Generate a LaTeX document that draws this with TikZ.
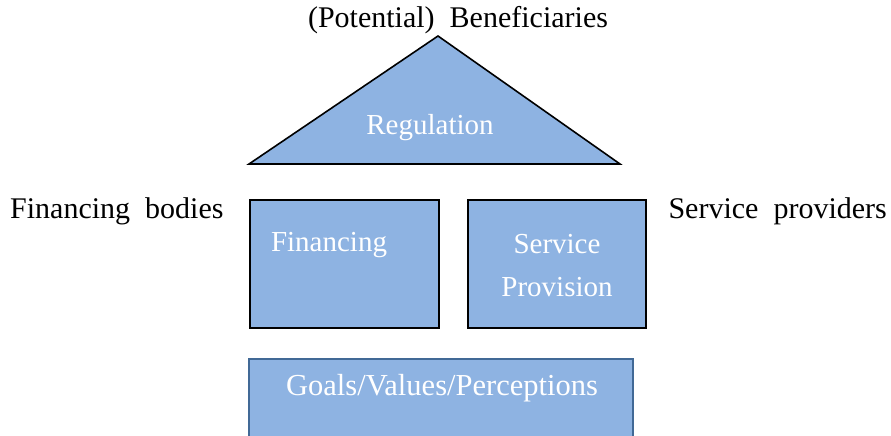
\documentclass[tikz,border=0pt]{standalone}
\usepackage{fontspec}
\setmainfont{Liberation Serif}
\usepackage{xcolor}
\usepackage{tikz}
\usetikzlibrary{positioning}
\definecolor{boxblue}{RGB}{142,179,226}
\definecolor{edgeblue}{RGB}{65,105,150}
\tikzset{
	pillar/.style={draw=black,fill=boxblue,line width=1.6pt,anchor=north west,inner sep=0pt},
	inlabel/.style={text=white,font=\fontsize{29}{34}\selectfont,align=center},
	outlabel/.style={text=black,font=\fontsize{30}{34}\selectfont,inner sep=0pt}
}
\begin{document}
\begin{tikzpicture}[x=1pt,y=-1pt]
		\useasboundingbox (0,0) rectangle (891,436);
		% roof
		\draw[fill=boxblue,line width=1.6pt,line join=miter] (249,164) -- (438,36) -- (620,164) -- cycle;
		\node[inlabel] (regulation) at (430,128) {Regulation};
		% pillars
		\node[pillar,minimum width=189pt,minimum height=128pt] (financing) at (249,199) {};
		\node[pillar,minimum width=178pt,minimum height=128pt] (provision) at (467,199) {};
		\node[inlabel] (fintext) at (329,245) {Financing};
		\node[inlabel,font=\fontsize{29}{43}\selectfont] (provtext) at (557,266) {Service\\Provision};
		% base
		\fill[boxblue] (249,359) rectangle (633,445);
		\draw[edgeblue,line width=1.6pt] (249,445) -- (249,359) -- (633,359) -- (633,445);
		\node[inlabel,font=\fontsize{30.5}{34}\selectfont] (goals) at (442,388) {Goals/Values/Perceptions};
		% actors
		\node[outlabel] (benef) at (458,20) {(Potential)\ \ Beneficiaries};
		\node[outlabel,anchor=west] (finbodies) at (10,211) {Financing\ \ bodies};
		\node[outlabel,anchor=east] (providers) at (887,211) {Service\ \ providers};
	\end{tikzpicture}
\end{document}
